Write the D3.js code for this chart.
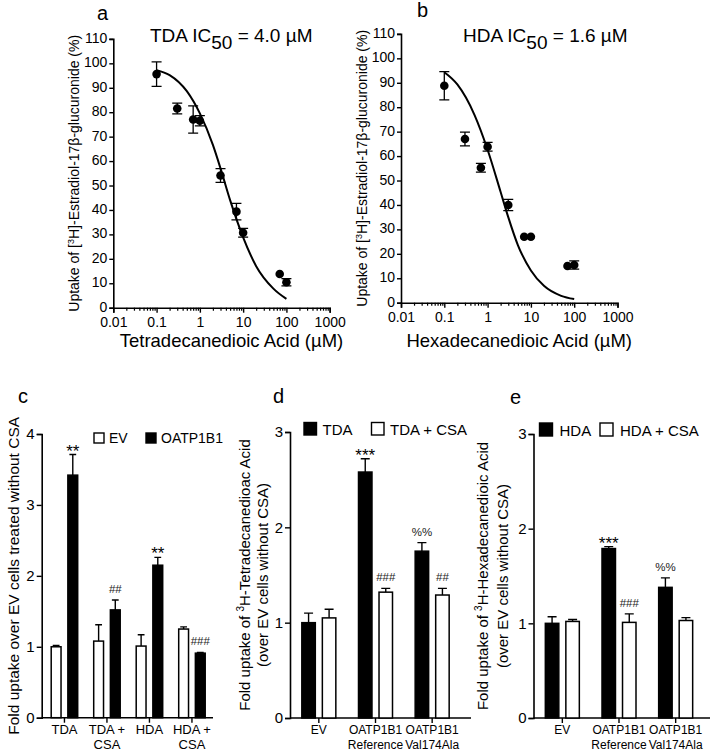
<!DOCTYPE html>
<html>
<head>
<meta charset="utf-8">
<script src="https://cdn.jsdelivr.net/npm/d3@7"></script>
<style>
body { margin: 0; background: #fff; }
svg { display: block; font-family: "Liberation Sans", Arial, sans-serif; }
</style>
</head>
<body>
<script>
// ---- panels a, b: inhibition of E217G uptake ----
var concentrations = [0.1, 0.3, 0.7, 1, 3, 7, 10, 70, 100];
var tdaUptake = [95.6, 81.5, 77.0, 76.5, 54.1, 39.3, 30.7, 13.8, 10.4];
var tdaSem = [5.0, 2.2, 5.6, 2.1, 2.8, 3.4, 1.8, 0, 1.5];
var hdaUptake = [88.8, 67.0, 55.2, 63.8, 40.0, 27.0, 27.0, 15.0, 15.4];
var hdaSem = [5.8, 2.8, 1.8, 1.8, 2.3, 0, 0, 0, 1.7];

// fitted curves
var fitConc = [0.1, 0.2, 0.5, 1, 2, 3, 5, 10, 20, 50, 100];
var tdaFit = [97.2, 95.2, 88.6, 79.5, 66.6, 57.0, 44.0, 28.8, 17.0, 7.8, 3.6];
var hdaFit = [94.3, 89.3, 76.8, 62.6, 45.3, 35.0, 23.6, 13.2, 6.9, 2.8, 1.5];

var xTickLabels = ["0.01", "0.1", "1", "10", "100", "1000"];
var uptakeTicks = [0, 10, 20, 30, 40, 50, 60, 70, 80, 90, 100, 110];

// ---- panel c ----
var groupsC = ["TDA", "TDA +\nCSA", "HDA", "HDA +\nCSA"];
var evC = [1.0, 1.08, 1.01, 1.25];
var evErrC = [0.02, 0.23, 0.16, 0.03];
var oatpC = [3.42, 1.52, 2.15, 0.91];
var oatpErrC = [0.29, 0.14, 0.11, 0.01];
var oatpSigC = ["**", "##", "**", "###"];
var foldTicksC = [0, 1, 2, 3, 4];

// ---- panels d, e ----
var groupsDE = ["EV", "OATP1B1\nReference", "OATP1B1\nVal174Ala"];
var tdaD = [1.0, 2.58, 1.75];
var tdaErrD = [0.10, 0.14, 0.09];
var tdaCsaD = [1.05, 1.32, 1.29];
var tdaCsaErrD = [0.09, 0.04, 0.07];
var tdaSigD = ["", "***", "%%"];
var tdaCsaSigD = ["", "###", "##"];

var hdaE = [1.0, 1.79, 1.38];
var hdaErrE = [0.07, 0.02, 0.10];
var hdaCsaE = [1.02, 1.01, 1.03];
var hdaCsaErrE = [0.02, 0.09, 0.03];
var hdaSigE = ["", "***", "%%"];
var hdaCsaSigE = ["", "###", ""];
var foldTicksDE = [0, 1, 2, 3];

var svg = d3.select("body").append("svg")
    .attr("width", 711)
    .attr("height", 754);

function styleAxis(g, fontSize) {
    g.attr("font-family", null).attr("font-size", fontSize);
    g.select(".domain").attr("stroke-width", 1.6);
    g.selectAll(".tick line").attr("stroke-width", 1.4);
    g.selectAll(".tick text").attr("fill", "#000");
}

function drawDose(box, values, sems, fit, letter, drug, ic50, xTitle) {
    var x = d3.scaleLog().domain([0.01, 1000]).range([box.left, box.right]);
    var y = d3.scaleLinear().domain([0, 110]).range([box.bottom, box.top]);
    var majors = xTickLabels.map(Number);
    var minors = x.ticks().filter(function (d) {
        return majors.indexOf(d) < 0;
    });

    svg.append("g")
        .attr("transform", "translate(0," + box.bottom + ")")
        .call(d3.axisBottom(x).tickValues(minors).tickSize(3).tickFormat(""))
        .call(function (g) { g.select(".domain").remove(); g.selectAll("line").attr("stroke-width", 1.2); });

    svg.append("g")
        .attr("transform", "translate(0," + box.bottom + ")")
        .call(d3.axisBottom(x).tickValues(majors).tickSize(5).tickPadding(4.5)
            .tickFormat(function (d, i) { return xTickLabels[i]; }))
        .call(styleAxis, 14);

    svg.append("g")
        .attr("transform", "translate(" + box.left + ",0)")
        .call(d3.axisLeft(y).tickValues(uptakeTicks).tickSize(4).tickPadding(2))
        .call(styleAxis, 14)
        .call(function (g) { g.selectAll(".tick text").attr("dy", "0.25em"); });

    // fitted curve
    svg.append("path")
        .datum(fitConc)
        .attr("fill", "none")
        .attr("stroke", "#000")
        .attr("stroke-width", 2)
        .attr("d", d3.line()
            .x(function (d) { return x(d); })
            .y(function (d, i) { return y(fit[i]); })
            .curve(d3.curveMonotoneX));

    var pts = svg.append("g").selectAll("g")
        .data(concentrations)
        .enter().append("g");

    pts.filter(function (d, i) { return sems[i] > 0; })
        .append("path")
        .attr("fill", "none")
        .attr("stroke", "#000")
        .attr("stroke-width", 1.3)
        .attr("d", function (d) {
            var i = concentrations.indexOf(d);
            var cx = x(d), y1 = y(values[i] + sems[i]), y2 = y(values[i] - sems[i]);
            return "M" + (cx - 5) + "," + y1 + "H" + (cx + 5) +
                "M" + cx + "," + y1 + "V" + y2 +
                "M" + (cx - 5) + "," + y2 + "H" + (cx + 5);
        });

    pts.append("circle")
        .attr("cx", function (d) { return x(d); })
        .attr("cy", function (d, i) { return y(values[i]); })
        .attr("r", 4.3)
        .attr("fill", "#000");

    // title with subscript
    var t = svg.append("text")
        .attr("x", box.titleX)
        .attr("y", 42)
        .attr("font-size", 19)
        .text(drug + " IC");
    t.append("tspan").attr("dy", 7).text("50");
    t.append("tspan").attr("dy", -7).text(" = " + ic50 + " \u00b5M");

    svg.append("text")
        .attr("x", box.letterX)
        .attr("y", box.letterY)
        .attr("font-size", 20)
        .text(letter);

    svg.append("text")
        .attr("x", (box.left + box.right) / 2 + 10)
        .attr("y", 347)
        .attr("text-anchor", "middle")
        .attr("font-size", 18.5)
        .text(xTitle);

    var yt = svg.append("text")
        .attr("transform", "translate(" + (box.left - 34) + "," + ((box.top + box.bottom) / 2) + ") rotate(-90)")
        .attr("text-anchor", "middle")
        .attr("font-size", 14)
        .text("Uptake of [");
    yt.append("tspan").attr("dy", -5).attr("font-size", 9).text("3");
    yt.append("tspan").attr("dy", 5).text("H]-Estradiol-17\u03b2-glucuronide (%)");
}

function drawBars(box, groups, series, ticks, letter, legend, yTitle, labelSize) {
    var y = d3.scaleLinear().domain([0, ticks[ticks.length - 1]]).range([box.bottom, box.top]);
    var x0 = d3.scaleBand().domain(groups).range([box.left + box.band[0], box.left + box.band[1]]);
    var x1 = d3.scaleBand().domain(series.map(function (s) { return s.name; }))
        .range([0, box.pair]).paddingInner(box.inner);
    var off = (x0.bandwidth() - box.pair) / 2;

    svg.append("g")
        .attr("transform", "translate(" + box.left + ",0)")
        .call(d3.axisLeft(y).tickValues(ticks).tickSize(5).tickPadding(2).tickFormat(d3.format("d")))
        .call(styleAxis, 15);

    svg.append("line")
        .attr("x1", box.left).attr("x2", box.axisEnd)
        .attr("y1", box.bottom).attr("y2", box.bottom)
        .attr("stroke", "#000").attr("stroke-width", 1.6);

    svg.append("g")
        .attr("transform", "translate(0," + box.bottom + ")")
        .call(d3.axisBottom(x0).tickSize(5).tickFormat(""))
        .call(function (g) { g.select(".domain").remove(); g.selectAll("line").attr("stroke-width", 1.4); });

    groups.forEach(function (grp) {
        var lines = grp.split("\n");
        var t = svg.append("text")
            .attr("text-anchor", "middle")
            .attr("font-size", labelSize)
            .attr("y", box.bottom + 16);
        lines.forEach(function (l, k) {
            t.append("tspan")
                .attr("x", x0(grp) + x0.bandwidth() / 2)
                .attr("dy", k === 0 ? 0 : 15)
                .text(l);
        });
    });

    series.forEach(function (s) {
        var g = svg.append("g");
        var bw = x1.bandwidth();
        groups.forEach(function (grp, i) {
            var bx = x0(grp) + off + x1(s.name);
            var top = y(s.values[i]);
            var et = y(s.values[i] + s.errs[i]);
            g.append("path")
                .attr("fill", "none")
                .attr("stroke", "#000")
                .attr("stroke-width", 1.4)
                .attr("d", "M" + (bx + bw / 2) + "," + top + "V" + et +
                    "M" + (bx + bw * 0.2) + "," + et + "H" + (bx + bw * 0.8));
            g.append("rect")
                .attr("x", bx + 0.75)
                .attr("y", top)
                .attr("width", bw - 1.5)
                .attr("height", box.bottom - top)
                .attr("fill", s.fill)
                .attr("stroke", "#000")
                .attr("stroke-width", 1.5);
            var sig = s.sig[i];
            if (sig) {
                var star = sig.charAt(0) === "*";
                g.append("text")
                    .attr("x", bx + bw / 2)
                    .attr("y", star ? et + 2 : et - 7)
                    .attr("text-anchor", "middle")
                    .attr("font-size", star ? 17 : 11.5)
                    .attr("fill", star ? "#000" : "#222")
                    .text(sig);
            }
        });
    });

    legend.items.forEach(function (it) {
        svg.append("rect")
            .attr("x", it.x).attr("y", legend.y)
            .attr("width", legend.size).attr("height", legend.size)
            .attr("fill", it.fill)
            .attr("stroke", "#000").attr("stroke-width", 1.4);
        svg.append("text")
            .attr("x", it.x + legend.size + legend.gap)
            .attr("y", legend.y + legend.size)
            .attr("font-size", legend.font)
            .text(it.label);
    });

    svg.append("text")
        .attr("x", letter.x).attr("y", letter.y)
        .attr("font-size", 20)
        .text(letter.text);

    yTitle.lines.forEach(function (l, k) {
        var t = svg.append("text")
            .attr("transform", "translate(" + yTitle.x[k] + "," + ((box.top + box.bottom) / 2) + ") rotate(-90)")
            .attr("text-anchor", "middle")
            .attr("font-size", yTitle.font);
        if (l.indexOf("^3") >= 0) {
            var parts = l.split("^3");
            t.append("tspan").text(parts[0]);
            t.append("tspan").attr("dy", -6).attr("font-size", 10).text("3");
            t.append("tspan").attr("dy", 6).text(parts[1]);
        } else {
            t.text(l);
        }
    });
}

drawDose({ left: 113.3, right: 329.7, bottom: 307.7, top: 38.9, titleX: 150, letterX: 97, letterY: 20 },
    tdaUptake, tdaSem, tdaFit, "a", "TDA", "4.0", "Tetradecanedioic Acid (\u00b5M)");
drawDose({ left: 401, right: 617.5, bottom: 302.7, top: 33.9, titleX: 463, letterX: 417, letterY: 17 },
    hdaUptake, hdaSem, hdaFit, "b", "HDA", "1.6", "Hexadecanedioic Acid (\u00b5M)");

drawBars({ left: 41.7, bottom: 717.7, top: 434, band: [1.5, 171.5], pair: 28, inner: 0.32, axisEnd: 213 },
    groupsC,
    [{ name: "EV", values: evC, errs: evErrC, fill: "#fff", sig: ["", "", "", ""] },
     { name: "OATP1B1", values: oatpC, errs: oatpErrC, fill: "#000", sig: oatpSigC }],
    foldTicksC,
    { text: "c", x: 18, y: 403 },
    { y: 433, size: 10, gap: 5, font: 14,
      items: [{ x: 94, fill: "#fff", label: "EV" }, { x: 146, fill: "#000", label: "OATP1B1" }] },
    { x: [18.5], font: 15.5, lines: ["Fold uptake over EV cells treated without CSA"] },
    13);

drawBars({ left: 290, bottom: 718, top: 432, band: [0.5, 170.5], pair: 35.5, inner: 0.27, axisEnd: 471 },
    groupsDE,
    [{ name: "TDA", values: tdaD, errs: tdaErrD, fill: "#000", sig: tdaSigD },
     { name: "TDA + CSA", values: tdaCsaD, errs: tdaCsaErrD, fill: "#fff", sig: tdaCsaSigD }],
    foldTicksDE,
    { text: "d", x: 273, y: 403 },
    { y: 422.5, size: 12.5, gap: 6, font: 15,
      items: [{ x: 304, fill: "#000", label: "TDA" }, { x: 371.5, fill: "#fff", label: "TDA + CSA" }] },
    { x: [250, 268], font: 15, lines: ["Fold uptake of ^3H-Tetradecanedioac Acid", "(over EV cells without CSA)"] },
    12);

drawBars({ left: 533.5, bottom: 718, top: 434, band: [0.5, 170.5], pair: 35.5, inner: 0.27, axisEnd: 710 },
    groupsDE,
    [{ name: "HDA", values: hdaE, errs: hdaErrE, fill: "#000", sig: hdaSigE },
     { name: "HDA + CSA", values: hdaCsaE, errs: hdaCsaErrE, fill: "#fff", sig: hdaCsaSigE }],
    foldTicksDE,
    { text: "e", x: 510, y: 404 },
    { y: 423, size: 13, gap: 7, font: 15,
      items: [{ x: 539.5, fill: "#000", label: "HDA" }, { x: 600, fill: "#fff", label: "HDA + CSA" }] },
    { x: [488, 508], font: 15, lines: ["Fold uptake of ^3H-Hexadecanedioic Acid", "(over EV cells without CSA)"] },
    12);
</script>
</body>
</html>
